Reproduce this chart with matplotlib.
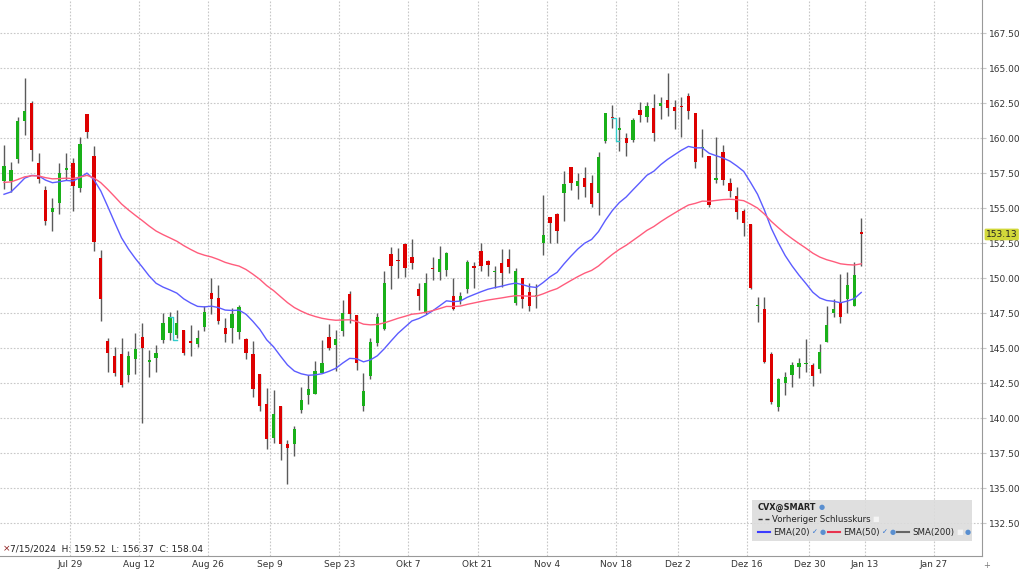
import numpy as np
import pandas as pd
import matplotlib
matplotlib.use("Agg")
import matplotlib.pyplot as plt
from matplotlib.patches import Rectangle

plt.rcParams['font.family'] = 'DejaVu Sans'

# daily candles CVX, 7/15/2024 .. 1/10/2025
opens = [156.95, 156.98, 158.52, 161.24, 162.50, 158.21, 156.31, 154.71, 155.36, 157.76,
         158.26, 156.43, 161.71, 158.74, 151.43, 145.52, 144.48, 144.57, 143.10, 144.21,
         145.83, 144.05, 144.33, 145.60, 146.07, 145.95, 146.31, 145.45, 145.31, 146.55,
         148.93, 148.62, 146.43, 146.48, 146.19, 145.64, 144.60, 143.17, 141.02, 138.57,
         140.90, 138.17, 138.17, 140.60, 141.67, 141.74, 143.26, 145.79, 145.24, 146.26,
         148.86, 147.38, 140.90, 143.02, 145.40, 146.36, 151.71, 151.29, 152.43, 151.50,
         149.21, 147.57, 150.67, 150.43, 150.60, 148.74, 148.38, 149.21, 150.79, 151.98,
         151.22, 150.43, 151.12, 151.36, 148.26, 150.00, 149.05, 148.70, 152.50, 154.40,
         154.57, 156.10, 157.98, 156.60, 157.14, 156.79, 156.12, 159.81, 161.50, 160.60,
         160.00, 159.88, 162.02, 161.55, 162.14, 162.33, 162.74, 162.26, 162.29, 163.02,
         161.83, 159.30, 158.74, 157.05, 159.05, 156.83, 155.88, 154.83, 153.88, 148.00,
         147.79, 144.57, 140.83, 142.50, 143.10, 143.64, 143.88, 143.79, 143.52, 145.48,
         147.55, 148.33, 148.50, 148.02, 153.33]
highs = [159.52, 158.33, 161.50, 164.29, 162.69, 158.98, 156.60, 155.71, 158.26, 158.98,
         158.57, 160.07, 161.75, 159.48, 152.02, 145.76, 145.07, 145.76, 144.81, 146.07,
         146.79, 144.88, 145.24, 147.50, 147.62, 147.74, 146.31, 146.67, 146.31, 148.02,
         150.05, 149.52, 147.14, 147.86, 148.10, 145.71, 145.55, 143.17, 142.14, 142.02,
         140.90, 138.45, 139.45, 142.21, 143.10, 144.10, 145.60, 146.74, 146.31, 148.45,
         149.12, 147.38, 143.21, 145.76, 147.50, 150.52, 152.26, 152.14, 152.50, 152.79,
         149.64, 150.40, 151.50, 152.31, 151.90, 150.00, 149.05, 151.31, 151.17, 152.50,
         151.31, 150.88, 152.07, 152.07, 150.76, 150.00, 149.64, 149.60, 155.95, 154.40,
         154.64, 157.64, 157.98, 157.55, 157.93, 157.38, 159.05, 161.79, 162.38, 161.55,
         160.36, 161.43, 162.62, 162.62, 163.17, 162.93, 164.69, 162.74, 162.98, 163.21,
         161.83, 160.64, 158.74, 160.07, 159.52, 157.14, 156.55, 154.93, 153.88, 148.64,
         148.64, 144.76, 142.86, 143.33, 144.05, 144.29, 145.65, 143.93, 145.31, 148.02,
         148.50, 150.31, 150.48, 151.19, 154.29]
lows = [156.37, 156.19, 158.21, 160.24, 158.40, 156.79, 153.81, 153.38, 154.57, 157.00,
        154.83, 156.19, 160.00, 151.95, 146.98, 143.33, 143.02, 142.21, 142.62, 143.14,
        139.64, 142.98, 143.33, 145.40, 145.60, 145.71, 144.52, 144.45, 145.07, 146.26,
        147.45, 146.74, 145.48, 145.40, 145.64, 144.24, 141.55, 140.55, 137.79, 138.26,
        137.00, 135.31, 137.31, 140.36, 141.02, 141.74, 143.21, 144.88, 143.40, 145.88,
        146.83, 143.45, 140.55, 142.81, 145.17, 146.31, 149.21, 150.00, 150.12, 150.64,
        147.74, 147.43, 149.88, 149.88, 150.17, 147.74, 148.14, 148.93, 149.33, 150.50,
        150.17, 149.29, 149.36, 150.40, 148.10, 147.86, 147.69, 147.86, 151.67, 152.55,
        152.50, 154.10, 156.31, 155.64, 155.83, 155.07, 154.52, 159.64, 160.71, 159.12,
        158.74, 159.76, 161.19, 161.14, 159.83, 161.38, 161.60, 160.64, 160.07, 161.36,
        157.86, 158.64, 155.12, 156.79, 156.69, 155.83, 154.21, 153.05, 149.21, 146.90,
        143.98, 141.02, 140.55, 141.67, 142.21, 142.86, 143.33, 142.31, 143.26, 145.48,
        147.26, 146.83, 147.55, 148.02, 150.88]
closes = [158.04, 157.74, 161.24, 161.98, 159.17, 157.07, 154.10, 155.05, 157.55, 157.86,
          156.60, 159.60, 160.48, 152.62, 148.52, 144.64, 143.21, 142.38, 144.48, 144.98,
          145.00, 144.12, 144.69, 146.79, 147.21, 146.79, 144.64, 145.40, 145.71, 147.62,
          148.50, 146.98, 146.00, 147.43, 147.93, 144.69, 142.07, 140.90, 138.52, 140.29,
          138.17, 137.86, 139.21, 141.31, 142.07, 143.38, 143.93, 145.00, 145.64, 147.50,
          147.45, 143.98, 141.95, 145.48, 147.26, 149.69, 150.90, 151.24, 150.71, 151.12,
          148.76, 149.64, 150.64, 151.36, 151.83, 147.79, 148.74, 151.19, 150.76, 150.90,
          150.93, 150.45, 150.40, 150.79, 150.52, 148.50, 148.02, 148.80, 153.10, 153.98,
          153.40, 156.74, 156.83, 156.95, 156.50, 155.31, 158.69, 161.79, 161.45, 160.76,
          159.64, 161.31, 161.67, 162.31, 160.40, 162.55, 162.14, 161.95, 162.24, 161.95,
          158.33, 159.36, 155.24, 157.10, 157.05, 156.24, 154.76, 153.93, 149.29, 148.05,
          144.05, 141.19, 142.79, 142.93, 143.84, 143.95, 143.98, 143.05, 144.76, 146.67,
          147.81, 147.26, 149.52, 150.24, 153.13]

# EMA values at the first visible day
ema20_start = 156.0
ema50_start = 156.85

# ex-dividend days (index) and amount
div_idx = [25, 89]
div_amt = 1.63

holidays = ['2024-09-02', '2024-11-28', '2024-12-25', '2025-01-01', '2025-01-09']
dates = pd.bdate_range('2024-07-15', '2025-01-10')
dates = dates[~dates.isin(pd.to_datetime(holidays))]
future = pd.bdate_range('2025-01-13', periods=25)
all_dates = dates.append(future)

tick_dates = pd.date_range('2024-07-29', '2025-01-27', freq='14D')
de_month = {1: 'Jan', 7: 'Jul', 8: 'Aug', 9: 'Sep', 10: 'Okt', 11: 'Nov', 12: 'Dez'}

o = np.array(opens); h = np.array(highs); l = np.array(lows); c = np.array(closes)
x = np.arange(len(c))


def ema(vals, n, start):
    a = 2.0 / (n + 1)
    out = [start]
    for v in vals[1:]:
        out.append(out[-1] + a * (v - out[-1]))
    return np.array(out)


e20 = ema(c, 20, ema20_start)
e50 = ema(c, 50, ema50_start)

W, H = 1024, 575
fig = plt.figure(figsize=(W / 100, H / 100), dpi=100)
ax = fig.add_axes([0, 1 - 556 / H, 982 / W, 556 / H])


def px(xp, yp):
    return xp / W, 1 - yp / H


grid_kw = dict(color='#c8c8c8', lw=0.8, linestyle=(0, (1.5, 1.5)), zorder=0)
yt = np.arange(132.5, 168, 2.5)
for v in yt:
    ax.axhline(v, **grid_kw)
tpos = [all_dates.get_loc(d) - 0.5 for d in tick_dates]
for t in tpos:
    ax.axvline(t, **grid_kw)

# candles
up = c >= o
cols = np.where(up, '#19b019', '#dd0000')
ax.vlines(x, l, h, color='#5a5a5a', lw=1.0, zorder=2)
body = np.maximum(np.abs(c - o), 0.09)
ax.bar(x, body, bottom=np.minimum(o, c), width=0.48, color=cols, zorder=3, linewidth=0)

ax.plot(x, e20, color='#5c5cff', lw=1.0, zorder=4)
ax.plot(x, e50, color='#ff5c7c', lw=1.0, zorder=4)

for d in div_idx:
    pc = c[d - 1]
    ax.plot([d - 1, d - 0.5, d - 0.5, d], [pc, pc, pc - div_amt, pc - div_amt],
            color='#33cccc', lw=1.0, zorder=5)

ax.set_xlim(-0.58, 141.47)
ax.set_ylim(130.16, 169.88)
ax.yaxis.tick_right()
ax.set_yticks(yt)
ax.set_yticklabels([f'{v:.2f}' for v in yt])
ax.set_xticks(tpos)
ax.set_xticklabels([f'{de_month[d.month]} {d.day}' for d in tick_dates])
ax.tick_params(axis='y', length=3, color='#c8c8c8', pad=2, labelsize=6.5, labelcolor='#333333')
ax.tick_params(axis='x', length=0, pad=3, labelsize=6.5, labelcolor='#333333')
for s in ['top', 'left']:
    ax.spines[s].set_visible(False)
ax.spines['right'].set_color('#999999')
ax.spines['bottom'].set_color('#999999')
ax.spines['right'].set_linewidth(0.8)
ax.spines['bottom'].set_linewidth(0.8)

# last price tag
ax.text(1.004, c[-1], f'{c[-1]:.2f}', transform=ax.get_yaxis_transform(), fontsize=6.5,
        color='#222222', va='center', ha='left',
        bbox=dict(boxstyle='round,pad=0.15', fc='#d2d83a', ec='none'), zorder=10, clip_on=False)

# info line bottom-left
fig.text(*px(3, 549), '×', color='#8b1a1a', fontsize=6.5, va='center', ha='left')
fig.text(*px(10, 549), f'{dates[0].month}/{dates[0].day}/{dates[0].year}  H: {h[0]:.2f}  L: {l[0]:.2f}  C: {c[0]:.2f}',
         fontsize=6.5, color='#222222', va='center', ha='left')
fig.text(*px(987, 566), '+', fontsize=6, color='#777777', va='center', ha='center')

# legend box
fig.patches.append(Rectangle(px(752, 541), 220 / W, 41 / H, transform=fig.transFigure,
                             fc='#dcdcdc', ec='none', alpha=0.9, zorder=20))
fs = 6.2
fig.text(*px(758, 507), 'CVX@SMART', fontsize=5.9, weight='bold', color='#222222', va='center', zorder=21)
fig.text(*px(822, 507), '●', fontsize=5, color='#5a8fd0', va='center', ha='center', zorder=21)
fig.lines.append(plt.Line2D([758 / W, 769 / W], [1 - 519 / H] * 2, transform=fig.transFigure,
                            color='#333333', lw=1, linestyle=(0, (3, 2)), zorder=21))
fig.text(*px(772, 519), 'Vorheriger Schlusskurs', fontsize=fs, color='#222222', va='center', zorder=21)
fig.text(*px(876, 519), '■', fontsize=5, color='#f4f4f4', va='center', ha='center', zorder=21)
items = [(758, '#3b3bff', 'EMA(20)', True), (828, '#e8334f', 'EMA(50)', True), (897, '#666666', 'SMA(200)', False)]
for x0, col, lab, chk in items:
    fig.lines.append(plt.Line2D([x0 / W, (x0 + 12) / W], [1 - 532 / H] * 2, transform=fig.transFigure,
                                color=col, lw=1.5, zorder=21))
    fig.text(*px(x0 + 15, 532), lab, fontsize=fs, color='#222222', va='center', zorder=21)
    xe = x0 + 15 + (40 if lab != 'SMA(200)' else 46)
    if chk:
        fig.text(*px(xe + 2, 532), '✓', fontsize=5, color='#2a6fd0', va='center', ha='center', zorder=21)
    else:
        fig.text(*px(xe + 2, 532), '■', fontsize=5, color='#f4f4f4', va='center', ha='center', zorder=21)
    fig.text(*px(xe + 10, 532), '●', fontsize=5, color='#5a8fd0', va='center', ha='center', zorder=21)

fig.savefig('out.png', dpi=100)
